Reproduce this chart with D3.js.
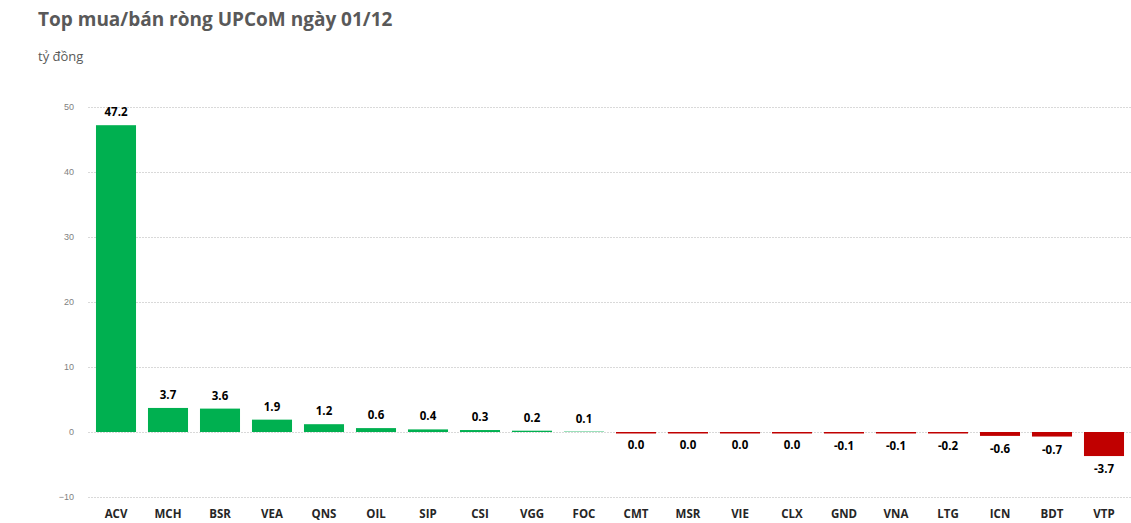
<!DOCTYPE html>
<html>
<head>
<meta charset="utf-8">
<script src="https://cdn.jsdelivr.net/npm/d3@7"></script>
<style>
  body { margin: 0; background: #fff; }
  svg { font-family: "Open Sans", "Liberation Sans", sans-serif; }
</style>
</head>
<body>
<div id="chart_wrapper"></div>
<script>
var categories = ["ACV", "MCH", "BSR", "VEA", "QNS", "OIL", "SIP", "CSI", "VGG", "FOC",
                  "CMT", "MSR", "VIE", "CLX", "GND", "VNA", "LTG", "ICN", "BDT", "VTP"];
var values = [47.2, 3.7, 3.6, 1.9, 1.2, 0.6, 0.4, 0.3, 0.2, 0.06,
              -0.04, -0.04, -0.04, -0.04, -0.1, -0.1, -0.2, -0.6, -0.7, -3.7];
var yTicks = [-10, 0, 10, 20, 30, 40, 50];

var wrapperWidth = 1131,
    wrapperHeight = 523;

var svg = d3.select("#chart_wrapper").append("svg")
    .attr("width", wrapperWidth).attr("height", wrapperHeight);

var data = categories.map(function(c, i) { return { name: c, value: values[i] }; });

var x = d3.scaleBand().domain(categories).range([90, 1130]).paddingInner(0.23).paddingOuter(0.115);
var y = d3.scaleLinear().domain([-10, 50]).range([497, 107]);

// title
svg.append("text").attr("x", 38).attr("y", 26)
    .attr("font-size", 19).attr("font-weight", "bold").attr("fill", "#595959")
    .text("Top mua/bán ròng UPCoM ngày 01/12");
svg.append("text").attr("x", 38).attr("y", 61)
    .attr("font-size", 13).attr("fill", "#595959")
    .text("tỷ đồng");

// grid
var grid = svg.append("g")
    .attr("transform", "translate(88,0)")
    .call(d3.axisLeft(y).tickValues(yTicks).tickSize(-1043).tickFormat(d3.format("d")));
grid.select(".domain").remove();
grid.selectAll("line").attr("stroke", "#d9d9d9").attr("stroke-dasharray", "2,1");
grid.selectAll("text").attr("fill", "#7f7f7f").attr("font-size", 9).attr("x", -14);

// bars
svg.append("g").selectAll("rect")
    .data(data)
    .enter().append("rect")
      .attr("x", function(d) { return x(d.name); })
      .attr("width", x.bandwidth())
      .attr("y", function(d) { return d.value >= 0 ? y(d.value) : y(0); })
      .attr("height", function(d) {
        var h = Math.abs(y(d.value) - y(0));
        return d.value < 0 ? Math.max(1.5, h) : h;
      })
      .attr("fill", function(d) { return d.value >= 0 ? "#00b050" : "#c00000"; });

function fmt(v) {
  var r = Math.round(v * 10) / 10;
  if (r === 0) return "0.0";
  return r.toFixed(1);
}

// value labels
svg.append("g").selectAll("text")
    .data(data)
    .enter().append("text")
      .attr("x", function(d) { return x(d.name) + x.bandwidth() / 2; })
      .attr("y", function(d) { return d.value >= 0 ? y(d.value) - 9 : y(d.value) + 17; })
      .attr("text-anchor", "middle")
      .attr("font-size", 11.5).attr("font-weight", "bold").attr("fill", "#000")
      .text(function(d) { return fmt(d.value); });

// category labels
svg.append("g").selectAll("text")
    .data(data)
    .enter().append("text")
      .attr("x", function(d) { return x(d.name) + x.bandwidth() / 2; })
      .attr("y", 518)
      .attr("text-anchor", "middle")
      .attr("font-size", 11.5).attr("font-weight", "bold").attr("fill", "#262626")
      .text(function(d) { return d.name; });
</script>
</body>
</html>
